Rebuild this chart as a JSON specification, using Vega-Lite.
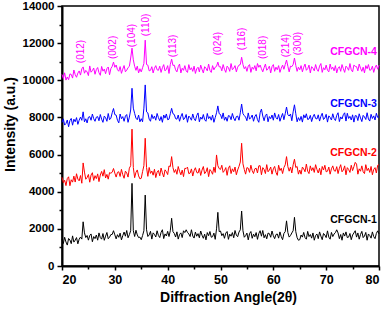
{
"$schema": "https://vega.github.io/schema/vega-lite/v6.json",
"width": 317, "height": 260, "autosize": {"type": "none"},
"padding": {"left": 62, "top": 6, "right": 8, "bottom": 44},
"config": {"view": {"stroke": "#000", "strokeWidth": 1.5}, "font": "Liberation Sans",
 "axis": {"grid": false, "domainColor": "#000", "tickColor": "#000", "labelColor": "#000", "titleColor": "#000", "labelFont": "Liberation Sans", "titleFont": "Liberation Sans", "labelFontWeight": "bold", "titleFontWeight": "bold"}},
"datasets": {
"xrd": [
{"a":20,"c1":1434,"c2":4776,"c3":7728,"c4":10318},
{"a":20.25,"c1":1210,"c2":4488,"c3":7924,"c4":10094},
{"a":20.5,"c1":1546,"c2":4616,"c3":7588,"c4":10402},
{"a":20.75,"c1":1294,"c2":4328,"c3":7672,"c4":10010},
{"a":21,"c1":1126,"c2":4708,"c3":7862,"c4":10178},
{"a":21.25,"c1":1482,"c2":4804,"c3":7498,"c4":10034},
{"a":21.5,"c1":1398,"c2":4324,"c3":7834,"c4":10342},
{"a":21.75,"c1":1202,"c2":4644,"c3":7946,"c4":10314},
{"a":22,"c1":1622,"c2":4516,"c3":7582,"c4":10118},
{"a":22.25,"c1":1286,"c2":4840,"c3":7906,"c4":10554},
{"a":22.5,"c1":1390,"c2":4520,"c3":7766,"c4":10302},
{"a":22.75,"c1":1530,"c2":4968,"c3":7990,"c4":10162},
{"a":23,"c1":1194,"c2":4680,"c3":7626,"c4":10386},
{"a":23.25,"c1":1446,"c2":4584,"c3":7850,"c4":10504},
{"a":23.5,"c1":1558,"c2":4872,"c3":8018,"c4":10280},
{"a":23.75,"c1":1448,"c2":4456,"c3":7844,"c4":10616},
{"a":24,"c1":2380,"c2":5550,"c3":8300,"c4":10720},
{"a":24.25,"c1":1784,"c2":5056,"c3":7760,"c4":10380},
{"a":24.5,"c1":1532,"c2":4672,"c3":7928,"c4":10532},
{"a":24.75,"c1":1644,"c2":4768,"c3":7704,"c4":10448},
{"a":25,"c1":1392,"c2":4928,"c3":8012,"c4":10252},
{"a":25.25,"c1":1642,"c2":4512,"c3":8044,"c4":10772},
{"a":25.5,"c1":1726,"c2":4896,"c3":7848,"c4":10436},
{"a":25.75,"c1":1306,"c2":5024,"c3":8184,"c4":10520},
{"a":26,"c1":1586,"c2":4608,"c3":7932,"c4":10660},
{"a":26.25,"c1":1474,"c2":4864,"c3":7792,"c4":10324},
{"a":26.5,"c1":1670,"c2":4704,"c3":8016,"c4":10576},
{"a":26.75,"c1":1390,"c2":4960,"c3":8044,"c4":10688},
{"a":27,"c1":1782,"c2":4544,"c3":7820,"c4":10408},
{"a":27.25,"c1":1530,"c2":4900,"c3":8156,"c4":10268},
{"a":27.5,"c1":1446,"c2":5092,"c3":7904,"c4":10744},
{"a":27.75,"c1":1748,"c2":4836,"c3":7736,"c4":10492},
{"a":28,"c1":1384,"c2":5188,"c3":8072,"c4":10604},
{"a":28.25,"c1":1608,"c2":4740,"c3":7988,"c4":10352},
{"a":28.5,"c1":1804,"c2":4932,"c3":7792,"c4":10632},
{"a":28.75,"c1":1468,"c2":4676,"c3":8212,"c4":10716},
{"a":29,"c1":1552,"c2":5028,"c3":7876,"c4":10296},
{"a":29.25,"c1":1692,"c2":4996,"c3":7960,"c4":10626},
{"a":29.5,"c1":1700,"c2":5050,"c3":8250,"c4":10750},
{"a":29.75,"c1":1900,"c2":5250,"c3":8480,"c4":10980},
{"a":30,"c1":1678,"c2":5000,"c3":8150,"c4":10700},
{"a":30.25,"c1":1462,"c2":4788,"c3":8128,"c4":10822},
{"a":30.5,"c1":1686,"c2":5044,"c3":7848,"c4":10570},
{"a":30.75,"c1":1546,"c2":5076,"c3":7708,"c4":10486},
{"a":31,"c1":1770,"c2":4820,"c3":8184,"c4":10738},
{"a":31.25,"c1":1406,"c2":5204,"c3":7932,"c4":10374},
{"a":31.5,"c1":1630,"c2":4916,"c3":8044,"c4":10598},
{"a":31.75,"c1":1828,"c2":4724,"c3":7792,"c4":10794},
{"a":32,"c1":1604,"c2":5108,"c3":8072,"c4":10458},
{"a":32.25,"c1":1912,"c2":5012,"c3":8156,"c4":10542},
{"a":32.5,"c1":1520,"c2":4788,"c3":7736,"c4":10682},
{"a":32.75,"c1":1688,"c2":5268,"c3":8016,"c4":10750},
{"a":33,"c1":1900,"c2":5400,"c3":8400,"c4":11200},
{"a":33.25,"c1":4450,"c2":7370,"c3":9570,"c4":11730},
{"a":33.5,"c1":1900,"c2":5300,"c3":8500,"c4":11100},
{"a":33.75,"c1":1588,"c2":4756,"c3":8212,"c4":10750},
{"a":34,"c1":1924,"c2":5044,"c3":7960,"c4":10536},
{"a":34.25,"c1":1672,"c2":5172,"c3":7876,"c4":10760},
{"a":34.5,"c1":1532,"c2":4852,"c3":8128,"c4":10396},
{"a":34.75,"c1":1556,"c2":4692,"c3":7764,"c4":10620},
{"a":35,"c1":1416,"c2":4724,"c3":7932,"c4":10452},
{"a":35.25,"c1":1640,"c2":5082,"c3":7766,"c4":10676},
{"a":35.5,"c1":1900,"c2":5400,"c3":8500,"c4":10900},
{"a":35.75,"c1":3820,"c2":6880,"c3":9750,"c4":12160},
{"a":36,"c1":1950,"c2":5300,"c3":8300,"c4":10850},
{"a":36.25,"c1":1588,"c2":4826,"c3":8242,"c4":10816},
{"a":36.5,"c1":1672,"c2":5306,"c3":7906,"c4":10508},
{"a":36.75,"c1":1868,"c2":4986,"c3":7794,"c4":10536},
{"a":37,"c1":1448,"c2":5114,"c3":8158,"c4":10732},
{"a":37.25,"c1":1784,"c2":4890,"c3":7934,"c4":10396},
{"a":37.5,"c1":1700,"c2":5210,"c3":8074,"c4":10648},
{"a":37.75,"c1":1560,"c2":4762,"c3":7850,"c4":10788},
{"a":38,"c1":1896,"c2":5050,"c3":8214,"c4":10564},
{"a":38.25,"c1":1644,"c2":5146,"c3":7990,"c4":10536},
{"a":38.5,"c1":1532,"c2":4858,"c3":7822,"c4":10760},
{"a":38.75,"c1":1812,"c2":5274,"c3":8046,"c4":10424},
{"a":39,"c1":1952,"c2":5018,"c3":7738,"c4":10676},
{"a":39.25,"c1":1476,"c2":4794,"c3":8130,"c4":10844},
{"a":39.5,"c1":1728,"c2":5178,"c3":7962,"c4":10508},
{"a":39.75,"c1":1616,"c2":5082,"c3":8186,"c4":10592},
{"a":40,"c1":1868,"c2":4922,"c3":7878,"c4":10788},
{"a":40.25,"c1":1588,"c2":5388,"c3":7906,"c4":10368},
{"a":40.5,"c1":1900,"c2":5350,"c3":8200,"c4":10850},
{"a":40.75,"c1":2570,"c2":5890,"c3":8490,"c4":11140},
{"a":41,"c1":1850,"c2":5300,"c3":8200,"c4":10800},
{"a":41.25,"c1":1756,"c2":5036,"c3":8158,"c4":10816},
{"a":41.5,"c1":1560,"c2":5196,"c3":7934,"c4":10564},
{"a":41.75,"c1":1840,"c2":4940,"c3":7906,"c4":10452},
{"a":42,"c1":1448,"c2":5356,"c3":8130,"c4":10732},
{"a":42.25,"c1":1700,"c2":5100,"c3":7794,"c4":10872},
{"a":42.5,"c1":1784,"c2":4908,"c3":8046,"c4":10396},
{"a":42.75,"c1":1532,"c2":5164,"c3":8214,"c4":10648},
{"a":43,"c1":1896,"c2":4812,"c3":7878,"c4":10536},
{"a":43.25,"c1":1800,"c2":5260,"c3":7962,"c4":10788},
{"a":43.5,"c1":1950,"c2":5250,"c3":8158,"c4":10508},
{"a":43.75,"c1":1812,"c2":5324,"c3":7738,"c4":10424},
{"a":44,"c1":1728,"c2":4972,"c3":8074,"c4":10844},
{"a":44.25,"c1":1588,"c2":5004,"c3":7990,"c4":10564},
{"a":44.5,"c1":1952,"c2":5228,"c3":7850,"c4":10676},
{"a":44.75,"c1":1616,"c2":4844,"c3":8186,"c4":10480},
{"a":45,"c1":1504,"c2":5132,"c3":7934,"c4":10760},
{"a":45.25,"c1":1828,"c2":5292,"c3":7822,"c4":10368},
{"a":45.5,"c1":1604,"c2":5036,"c3":8102,"c4":10620},
{"a":45.75,"c1":1744,"c2":5004,"c3":8242,"c4":10704},
{"a":46,"c1":1520,"c2":5260,"c3":7766,"c4":10452},
{"a":46.25,"c1":1884,"c2":4876,"c3":8018,"c4":10816},
{"a":46.5,"c1":1660,"c2":5164,"c3":7906,"c4":10592},
{"a":46.75,"c1":1492,"c2":5356,"c3":8158,"c4":10396},
{"a":47,"c1":1716,"c2":4972,"c3":7878,"c4":10732},
{"a":47.25,"c1":1408,"c2":5068,"c3":7794,"c4":10648},
{"a":47.5,"c1":1800,"c2":5292,"c3":8214,"c4":10508},
{"a":47.75,"c1":1632,"c2":4812,"c3":7934,"c4":10872},
{"a":48,"c1":1856,"c2":5196,"c3":8046,"c4":10536},
{"a":48.25,"c1":1548,"c2":5100,"c3":7850,"c4":10424},
{"a":48.5,"c1":1576,"c2":4940,"c3":8130,"c4":10788},
{"a":48.75,"c1":1772,"c2":5324,"c3":7738,"c4":10564},
{"a":49,"c1":1436,"c2":5036,"c3":7990,"c4":10704},
{"a":49.25,"c1":2000,"c2":5980,"c3":8250,"c4":10750},
{"a":49.5,"c1":2890,"c2":5400,"c3":8620,"c4":10980},
{"a":49.75,"c1":1850,"c2":5244,"c3":8200,"c4":10720},
{"a":50,"c1":1884,"c2":5202,"c3":8158,"c4":10734},
{"a":50.25,"c1":1632,"c2":5426,"c3":7934,"c4":10510},
{"a":50.5,"c1":1744,"c2":5042,"c3":8242,"c4":10846},
{"a":50.75,"c1":1492,"c2":5138,"c3":7850,"c4":10594},
{"a":51,"c1":1772,"c2":5298,"c3":8018,"c4":10426},
{"a":51.25,"c1":1856,"c2":4882,"c3":7794,"c4":10762},
{"a":51.5,"c1":1436,"c2":5266,"c3":8102,"c4":10678},
{"a":51.75,"c1":1716,"c2":5394,"c3":8074,"c4":10482},
{"a":52,"c1":1604,"c2":4978,"c3":7878,"c4":10902},
{"a":52.25,"c1":1800,"c2":5234,"c3":8214,"c4":10566},
{"a":52.5,"c1":1520,"c2":5074,"c3":7962,"c4":10650},
{"a":52.75,"c1":1912,"c2":5330,"c3":7822,"c4":10790},
{"a":53,"c1":1660,"c2":4914,"c3":8046,"c4":10454},
{"a":53.25,"c1":1576,"c2":5170,"c3":8074,"c4":10706},
{"a":53.5,"c1":1828,"c2":5362,"c3":7850,"c4":10818},
{"a":53.75,"c1":1950,"c2":5600,"c3":8250,"c4":10850},
{"a":54,"c1":2960,"c2":6610,"c3":8720,"c4":11240},
{"a":54.25,"c1":1900,"c2":5500,"c3":8200,"c4":10850},
{"a":54.5,"c1":1548,"c2":5202,"c3":8102,"c4":10622},
{"a":54.75,"c1":1632,"c2":4946,"c3":8018,"c4":10734},
{"a":55,"c1":1772,"c2":5298,"c3":7822,"c4":10482},
{"a":55.25,"c1":1408,"c2":5266,"c3":8242,"c4":10762},
{"a":55.5,"c1":1744,"c2":5042,"c3":7906,"c4":10846},
{"a":55.75,"c1":1856,"c2":5426,"c3":7990,"c4":10426},
{"a":56,"c1":1492,"c2":5138,"c3":8130,"c4":10706},
{"a":56.25,"c1":1716,"c2":4978,"c3":7794,"c4":10594},
{"a":56.5,"c1":1576,"c2":5234,"c3":8046,"c4":10790},
{"a":56.75,"c1":1800,"c2":5266,"c3":8158,"c4":10510},
{"a":57,"c1":1436,"c2":5010,"c3":7878,"c4":10902},
{"a":57.25,"c1":1750,"c2":5394,"c3":7738,"c4":10700},
{"a":57.5,"c1":1900,"c2":5400,"c3":8250,"c4":10820},
{"a":57.75,"c1":1604,"c2":4914,"c3":8450,"c4":10622},
{"a":58,"c1":1912,"c2":5298,"c3":8074,"c4":10454},
{"a":58.25,"c1":1520,"c2":5202,"c3":7822,"c4":10678},
{"a":58.5,"c1":1688,"c2":4978,"c3":8102,"c4":10874},
{"a":58.75,"c1":1464,"c2":5458,"c3":8186,"c4":10538},
{"a":59,"c1":1772,"c2":5074,"c3":7766,"c4":10622},
{"a":59.25,"c1":1744,"c2":5170,"c3":8046,"c4":10762},
{"a":59.5,"c1":1548,"c2":5330,"c3":7934,"c4":10398},
{"a":59.75,"c1":1884,"c2":4946,"c3":8130,"c4":10734},
{"a":60,"c1":1632,"c2":5234,"c3":7850,"c4":10846},
{"a":60.25,"c1":1472,"c2":5362,"c3":8242,"c4":10482},
{"a":60.5,"c1":1696,"c2":5042,"c3":7990,"c4":10706},
{"a":60.75,"c1":1724,"c2":4882,"c3":7906,"c4":10566},
{"a":61,"c1":1500,"c2":5426,"c3":8158,"c4":10790},
{"a":61.25,"c1":1836,"c2":5138,"c3":7794,"c4":10426},
{"a":61.5,"c1":1584,"c2":5266,"c3":8018,"c4":10650},
{"a":61.75,"c1":1416,"c2":4978,"c3":8214,"c4":10818},
{"a":62,"c1":1752,"c2":5298,"c3":7878,"c4":10594},
{"a":62.25,"c1":1850,"c2":5450,"c3":8200,"c4":10850},
{"a":62.5,"c1":2430,"c2":5890,"c3":8560,"c4":11090},
{"a":62.75,"c1":1800,"c2":5350,"c3":8150,"c4":10750},
{"a":63,"c1":1556,"c2":5106,"c3":8074,"c4":10454},
{"a":63.25,"c1":1640,"c2":5330,"c3":8186,"c4":10762},
{"a":63.5,"c1":1780,"c2":5010,"c3":7822,"c4":10734},
{"a":63.75,"c1":1900,"c2":5450,"c3":8300,"c4":10850},
{"a":64,"c1":2620,"c2":5750,"c3":8680,"c4":11200},
{"a":64.25,"c1":1850,"c2":5300,"c3":8200,"c4":10800},
{"a":64.5,"c1":1528,"c2":5362,"c3":7766,"c4":10482},
{"a":64.75,"c1":1388,"c2":4946,"c3":7990,"c4":10706},
{"a":65,"c1":1416,"c2":5168,"c3":7832,"c4":10566},
{"a":65.25,"c1":1668,"c2":4944,"c3":8056,"c4":10790},
{"a":65.5,"c1":1556,"c2":5328,"c3":7748,"c4":10454},
{"a":65.75,"c1":1808,"c2":5232,"c3":8140,"c4":10706},
{"a":66,"c1":1528,"c2":5072,"c3":7972,"c4":10874},
{"a":66.25,"c1":1444,"c2":5488,"c3":8196,"c4":10538},
{"a":66.5,"c1":1864,"c2":5104,"c3":7888,"c4":10622},
{"a":66.75,"c1":1584,"c2":4976,"c3":7916,"c4":10818},
{"a":67,"c1":1696,"c2":5392,"c3":8112,"c4":10398},
{"a":67.25,"c1":1500,"c2":5136,"c3":7776,"c4":10734},
{"a":67.5,"c1":1780,"c2":5296,"c3":8028,"c4":10650},
{"a":67.75,"c1":1388,"c2":5040,"c3":8168,"c4":10510},
{"a":68,"c1":1640,"c2":5456,"c3":7944,"c4":10846},
{"a":68.25,"c1":1724,"c2":5200,"c3":7916,"c4":10594},
{"a":68.5,"c1":1472,"c2":5008,"c3":8140,"c4":10482},
{"a":68.75,"c1":1836,"c2":5264,"c3":7804,"c4":10762},
{"a":69,"c1":1612,"c2":4912,"c3":8056,"c4":10902},
{"a":69.25,"c1":1416,"c2":5360,"c3":8224,"c4":10426},
{"a":69.5,"c1":1752,"c2":5168,"c3":7888,"c4":10678},
{"a":69.75,"c1":1668,"c2":5424,"c3":7972,"c4":10566},
{"a":70,"c1":1528,"c2":5072,"c3":8168,"c4":10818},
{"a":70.25,"c1":1892,"c2":5104,"c3":7748,"c4":10538},
{"a":70.5,"c1":1556,"c2":5328,"c3":8084,"c4":10454},
{"a":70.75,"c1":1444,"c2":4944,"c3":8000,"c4":10874},
{"a":71,"c1":1808,"c2":5232,"c3":7860,"c4":10594},
{"a":71.25,"c1":1584,"c2":5392,"c3":8196,"c4":10706},
{"a":71.5,"c1":1724,"c2":5136,"c3":7944,"c4":10510},
{"a":71.75,"c1":1800,"c2":5104,"c3":7832,"c4":10790},
{"a":72,"c1":1950,"c2":5350,"c3":8112,"c4":10398},
{"a":72.25,"c1":1780,"c2":4976,"c3":8252,"c4":10650},
{"a":72.5,"c1":1472,"c2":5264,"c3":7776,"c4":10734},
{"a":72.75,"c1":1696,"c2":5456,"c3":8028,"c4":10482},
{"a":73,"c1":1388,"c2":5072,"c3":7916,"c4":10846},
{"a":73.25,"c1":1780,"c2":5168,"c3":8150,"c4":10622},
{"a":73.5,"c1":1612,"c2":5392,"c3":8250,"c4":10426},
{"a":73.75,"c1":1836,"c2":4912,"c3":7804,"c4":10762},
{"a":74,"c1":1528,"c2":5296,"c3":8224,"c4":10678},
{"a":74.25,"c1":1556,"c2":5200,"c3":7944,"c4":10538},
{"a":74.5,"c1":1752,"c2":5040,"c3":8056,"c4":10902},
{"a":74.75,"c1":1416,"c2":5424,"c3":7860,"c4":10566},
{"a":75,"c1":1668,"c2":5136,"c3":8140,"c4":10454},
{"a":75.25,"c1":1780,"c2":5350,"c3":7748,"c4":10818},
{"a":75.5,"c1":1900,"c2":5580,"c3":8100,"c4":10750},
{"a":75.75,"c1":1556,"c2":5488,"c3":8084,"c4":10734},
{"a":76,"c1":1780,"c2":4944,"c3":7832,"c4":10510},
{"a":76.25,"c1":1444,"c2":5232,"c3":8196,"c4":10874},
{"a":76.5,"c1":1696,"c2":5104,"c3":7972,"c4":10650},
{"a":76.75,"c1":1864,"c2":5392,"c3":7776,"c4":10482},
{"a":77,"c1":1528,"c2":5072,"c3":8112,"c4":10706},
{"a":77.25,"c1":1612,"c2":4976,"c3":8028,"c4":10398},
{"a":77.5,"c1":1808,"c2":5456,"c3":7888,"c4":10790},
{"a":77.75,"c1":1388,"c2":5136,"c3":8252,"c4":10622},
{"a":78,"c1":1724,"c2":5264,"c3":7916,"c4":10846},
{"a":78.25,"c1":1640,"c2":5040,"c3":7804,"c4":10538},
{"a":78.5,"c1":1500,"c2":5360,"c3":8168,"c4":10566},
{"a":78.75,"c1":1836,"c2":4912,"c3":7944,"c4":10762},
{"a":79,"c1":1584,"c2":5200,"c3":8084,"c4":10426},
{"a":79.25,"c1":1472,"c2":5296,"c3":7860,"c4":10678},
{"a":79.5,"c1":1752,"c2":5008,"c3":8224,"c4":10818},
{"a":79.75,"c1":1892,"c2":5424,"c3":8000,"c4":10594},
{"a":80,"c1":1724,"c2":5456,"c3":8028,"c4":10818}
],
"peaks": [
{"t":"(012)","a":23.6,"i":10920},
{"t":"(002)","a":29.7,"i":11140},
{"t":"(104)","a":33.2,"i":11780},
{"t":"(110)","a":35.9,"i":12370},
{"t":"(113)","a":41.0,"i":11240},
{"t":"(024)","a":49.5,"i":11350},
{"t":"(116)","a":54.1,"i":11620},
{"t":"(018)","a":58.0,"i":11140},
{"t":"(214)","a":62.4,"i":11240},
{"t":"(300)","a":64.7,"i":11350}
],
"names": [
{"t":"CFGCN-1","series":"c1","a":79.6,"i":2315},
{"t":"CFGCN-2","series":"c2","a":79.6,"i":5920},
{"t":"CFGCN-3","series":"c3","a":79.6,"i":8560},
{"t":"CFGCN-4","series":"c4","a":79.6,"i":11360}
]
},
"layer": [
{"data": {"name": "xrd"},
 "transform": [{"fold": ["c1","c2","c3","c4"], "as": ["series","intensity"]}],
 "mark": {"type": "line", "strokeWidth": 1},
 "encoding": {
  "x": {"field": "a", "type": "quantitative", "scale": {"domain": [20,80], "nice": false, "zero": false},
   "axis": {"orient": "bottom", "values": [20,30,40,50,60,70,80], "tickSize": 4, "tickWidth": 1.5, "domainWidth": 2, "labelFontSize": 12.5, "labelPadding": 3, "title": "Diffraction Angle(2θ)", "titleFontSize": 14, "titlePadding": 5, "titleX": 166}},
  "y": {"field": "intensity", "type": "quantitative", "scale": {"domain": [0,14000], "nice": false},
   "axis": {"orient": "left", "values": [0,2000,4000,6000,8000,10000,12000,14000], "format": "d", "tickSize": 5, "tickWidth": 1.5, "domainWidth": 2, "labelFontSize": 11.5, "labelPadding": 3, "title": "Intensity (a.u.)", "titleFontSize": 14, "titlePadding": 5, "titleY": 118}},
  "color": {"field": "series", "type": "nominal", "scale": {"domain": ["c1","c2","c3","c4"], "range": ["#000000","#FF0000","#0000FF","#FF00FF"]}, "legend": null}
 }},
{"data": {"name": "peaks"},
 "mark": {"type": "text", "angle": 270, "align": "left", "baseline": "middle", "fontSize": 10, "color": "#FF00FF", "font": "Liberation Sans"},
 "encoding": {
  "x": {"field": "a", "type": "quantitative", "scale": {"domain": [20,80], "nice": false, "zero": false},
   "axis": {"orient": "bottom", "values": [25,35,45,55,65,75], "labels": false, "tickSize": 3, "tickWidth": 1.5, "domain": false, "title": null}},
  "y": {"field": "i", "type": "quantitative", "scale": {"domain": [0,14000], "nice": false},
   "axis": {"orient": "left", "values": [1000,3000,5000,7000,9000,11000,13000], "labels": false, "tickSize": 3, "tickWidth": 1.5, "domain": false, "title": null}},
  "text": {"field": "t"}
 }},
{"data": {"name": "names"},
 "mark": {"type": "text", "align": "right", "baseline": "alphabetic", "fontSize": 10.5, "fontWeight": "bold", "font": "Liberation Sans"},
 "encoding": {
  "x": {"field": "a", "type": "quantitative", "scale": {"domain": [20,80], "nice": false, "zero": false}, "axis": null},
  "y": {"field": "i", "type": "quantitative", "scale": {"domain": [0,14000], "nice": false}, "axis": null},
  "text": {"field": "t"},
  "color": {"field": "series", "type": "nominal", "legend": null}
 }}
],
"resolve": {"axis": {"x": "independent", "y": "independent"}}
}
